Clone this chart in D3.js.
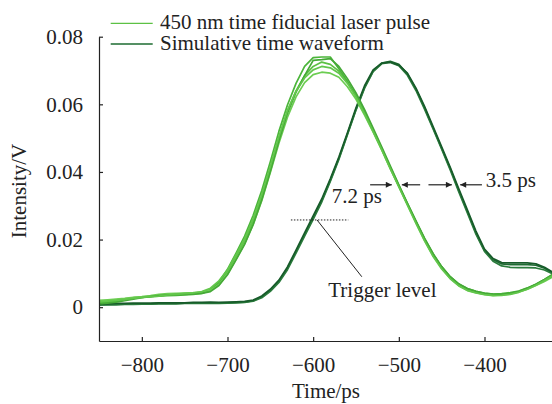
<!DOCTYPE html>
<html lang="en">
<head>
  <meta charset="UTF-8">
  <title>Trigger waveform</title>
  <script src="https://d3js.org/d3.v7.min.js"></script>
  <style>
    body { margin: 0; background: #fff; }
    svg { font-family: "Liberation Serif", "Times New Roman", serif; }
    .axis path, .axis line { stroke: #222; stroke-width: 1.2px; }
    .axis text { font-size: 21px; fill: #222; font-family: "Liberation Serif", serif; }
    .trace { fill: none; stroke-width: 1.7px; stroke-linejoin: round; }
  </style>
</head>
<body>
  <svg width="552" height="404"></svg>

  <script>
    // time axis (ps)
    const times = [
      -850, -840, -830, -820, -810, -800, -790, -780, -770,
      -760, -750, -740, -730, -720, -710, -700, -690, -680,
      -670, -660, -650, -640, -630, -620, -610, -600, -590,
      -580, -570, -560, -550, -540, -530, -520, -510, -500,
      -490, -480, -470, -460, -450, -440, -430, -420, -410,
      -400, -390, -380, -370, -360, -350, -340, -330, -320
    ];

    // 450 nm time fiducial laser pulse (several shots)
    const laser1 = [
      .0017, .0019, .0022, .0025, .0028, .0030, .0032, .0035, .0037,
      .0039, .0041, .0042, .0044, .0052, .0072, .0105, .0150, .0195,
      .0255, .0325, .0410, .0500, .0580, .0640, .0685, .0712, .0725,
      .0718, .0698, .0665, .0625, .0575, .0522, .0468, .0412, .0358,
      .0305, .0252, .0200, .0155, .0118, .0088, .0067, .0053, .0045,
      .0040, .0037, .0037, .0040, .0046, .0055, .0067, .0080, .0095
    ];
    const laser2 = [
      .0013, .0015, .0018, .0022, .0026, .0029, .0031, .0033, .0034,
      .0035, .0036, .0038, .0041, .0050, .0075, .0112, .0160, .0210,
      .0272, .0345, .0430, .0520, .0598, .0662, .0712, .0738, .0740,
      .0740, .0705, .0668, .0626, .0578, .0525, .0470, .0414, .0360,
      .0306, .0254, .0203, .0158, .0120, .0090, .0068, .0055, .0047,
      .0042, .0039, .0040, .0043, .0048, .0057, .0068, .0082, .0098
    ];
    const laser3 = [
      .0020, .0022, .0024, .0026, .0029, .0031, .0034, .0038, .0040,
      .0041, .0042, .0043, .0045, .0050, .0066, .0098, .0142, .0188,
      .0245, .0315, .0398, .0485, .0562, .0622, .0664, .0688, .0695,
      .0692, .0680, .0652, .0615, .0568, .0518, .0465, .0410, .0357,
      .0304, .0250, .0198, .0152, .0115, .0085, .0064, .0050, .0043,
      .0038, .0035, .0036, .0039, .0045, .0053, .0064, .0076, .0090
    ];
    const laser4 = [
      .0010, .0012, .0015, .0019, .0024, .0028, .0031, .0034, .0036,
      .0037, .0038, .0039, .0041, .0046, .0064, .0096, .0140, .0186,
      .0245, .0318, .0402, .0492, .0574, .0636, .0685, .0730, .0732,
      .0735, .0712, .0676, .0634, .0584, .0530, .0474, .0418, .0362,
      .0308, .0255, .0204, .0158, .0120, .0090, .0069, .0055, .0047,
      .0041, .0039, .0038, .0041, .0047, .0056, .0068, .0082, .0097
    ];
    const laser5 = [
      .0016, .0018, .0020, .0023, .0026, .0029, .0031, .0033, .0036,
      .0038, .0040, .0042, .0046, .0056, .0078, .0110, .0155, .0202,
      .0262, .0333, .0416, .0505, .0582, .0638, .0678, .0702, .0712,
      .0708, .0692, .0662, .0622, .0572, .0520, .0466, .0410, .0356,
      .0302, .0248, .0196, .0150, .0113, .0084, .0063, .0049, .0042,
      .0037, .0034, .0035, .0038, .0044, .0053, .0065, .0079, .0093
    ];

    // simulative time waveform
    const sim1 = [
      .0008, .0008, .0009, .0009, .0010, .0010, .0010, .0011, .0011,
      .0011, .0012, .0012, .0012, .0013, .0012, .0013, .0014, .0015,
      .0019, .0030, .0050, .0076, .0115, .0165, .0215, .0265, .0315,
      .0375, .0440, .0512, .0585, .0650, .0698, .0722, .0727, .0718,
      .0690, .0645, .0590, .0530, .0470, .0410, .0345, .0283, .0220,
      .0168, .0140, .0128, .0126, .0126, .0126, .0124, .0115, .0100
    ];
    const sim2 = [
      .0006, .0007, .0007, .0008, .0008, .0009, .0009, .0010, .0010,
      .0010, .0011, .0011, .0011, .0012, .0011, .0012, .0013, .0014,
      .0018, .0028, .0047, .0073, .0111, .0160, .0210, .0260, .0311,
      .0372, .0437, .0510, .0583, .0648, .0697, .0720, .0724, .0714,
      .0686, .0641, .0586, .0527, .0467, .0406, .0341, .0279, .0216,
      .0165, .0136, .0122, .0118, .0117, .0117, .0116, .0110, .0098
    ];
    const sim3 = [
      .0010, .0010, .0011, .0011, .0012, .0012, .0012, .0013, .0013,
      .0013, .0013, .0014, .0014, .0015, .0014, .0015, .0016, .0017,
      .0021, .0033, .0053, .0080, .0119, .0169, .0220, .0270, .0320,
      .0380, .0444, .0516, .0590, .0655, .0702, .0722, .0725, .0716,
      .0692, .0648, .0594, .0534, .0474, .0414, .0350, .0288, .0225,
      .0172, .0144, .0132, .0131, .0131, .0131, .0128, .0118, .0103
    ];

    const xTicks = [-800, -700, -600, -500, -400];
    const yTicks = [0, 0.02, 0.04, 0.06, 0.08];
    const legendLabels = ["450 nm time fiducial laser pulse", "Simulative time waveform"];

    const laserTraces = [laser1, laser2, laser3, laser4, laser5];
    const simTraces = [sim1, sim2, sim3];
    const laserColors = ["#5cc144", "#4bb53a", "#6ccd52", "#45a937", "#62c64b"];
    const simColors = ["#1d6b31", "#2a7b3c", "#175b2a"];

    const svg = d3.select("svg");
    const plotLeft = 99, plotRight = 552, plotTop = 36.7, plotBottom = 341;

    const x = d3.scaleLinear().domain([-850, -321.2]).range([plotLeft, plotRight]);
    const y = d3.scaleLinear().domain([-0.01, 0.08]).range([plotBottom, plotTop]);

    const defs = svg.append("defs");
    defs.append("clipPath").attr("id", "plot")
      .append("rect").attr("x", plotLeft).attr("y", 0)
      .attr("width", plotRight - plotLeft).attr("height", plotBottom);

    const line = d3.line()
      .x((d, i) => x(times[i]))
      .y(d => y(d));

    const traces = svg.append("g").attr("clip-path", "url(#plot)");

    simTraces.forEach((s, i) => {
      traces.append("path").attr("class", "trace")
        .attr("d", line(s)).attr("stroke", simColors[i]);
    });
    laserTraces.forEach((s, i) => {
      traces.append("path").attr("class", "trace")
        .attr("d", line(s)).attr("stroke", laserColors[i]);
    });

    // Axes
    svg.append("g").attr("class", "axis")
      .attr("transform", `translate(0,${plotBottom})`)
      .call(d3.axisBottom(x).tickValues(xTicks).tickSizeInner(-4).tickSizeOuter(0).tickPadding(16.5)
        .tickFormat(d => "\u2212" + Math.abs(d)));

    svg.append("g").attr("class", "axis")
      .attr("transform", `translate(${plotLeft},0)`)
      .call(d3.axisLeft(y).tickValues(yTicks).tickSizeInner(-4).tickSizeOuter(0).tickPadding(16)
        .tickFormat(d => d === 0 ? "0" : d3.format(".2f")(d)));

    // Axis titles
    svg.append("text")
      .attr("x", 326).attr("y", 398)
      .attr("text-anchor", "middle")
      .style("font-size", "21px").attr("fill", "#222")
      .text("Time/ps");

    svg.append("text")
      .attr("transform", "translate(26,191) rotate(-90)")
      .attr("text-anchor", "middle")
      .style("font-size", "21px").attr("fill", "#222")
      .text("Intensity/V");

    // Legend
    const legendColors = [laserColors[0], simColors[0]];
    const legendY = [23.3, 44];
    legendLabels.forEach((lab, i) => {
      svg.append("line")
        .attr("x1", 110.7).attr("x2", 152.7)
        .attr("y1", legendY[i]).attr("y2", legendY[i])
        .attr("stroke", legendColors[i]).attr("stroke-width", 1.3);
      svg.append("text")
        .attr("x", 160).attr("y", legendY[i] + 5.5)
        .style("font-size", "21px").attr("fill", "#222")
        .text(lab);
    });

    // Trigger level annotation
    const trigger = 0.0258;
    svg.append("line")
      .attr("x1", x(-626)).attr("x2", x(-559))
      .attr("y1", y(trigger)).attr("y2", y(trigger))
      .attr("stroke", "#222").attr("stroke-width", 1).attr("stroke-dasharray", "1.5,1.5");
    svg.append("line")
      .attr("x1", x(-595.5)).attr("y1", y(trigger))
      .attr("x2", x(-543.2)).attr("y2", y(0.0090))
      .attr("stroke", "#222").attr("stroke-width", 1);
    svg.append("text")
      .attr("x", x(-582.4)).attr("y", y(0.0031))
      .style("font-size", "21px").attr("fill", "#222")
      .text("Trigger level");

    // Width arrows
    const arrowLevel = 0.0362;
    defs.append("marker")
      .attr("id", "head").attr("viewBox", "0 0 10 10")
      .attr("refX", 10).attr("refY", 5)
      .attr("markerWidth", 9).attr("markerHeight", 6)
      .attr("markerUnits", "userSpaceOnUse")
      .attr("orient", "auto")
      .append("path").attr("d", "M0,0L10,5L0,10Z").attr("fill", "#222");

    const arrows = [[-533.5, -508.2], [-475.1, -496.5], [-465.4, -438.1], [-403.0, -428.4]];
    arrows.forEach(a => {
      svg.append("line")
        .attr("x1", x(a[0])).attr("x2", x(a[1]))
        .attr("y1", y(arrowLevel)).attr("y2", y(arrowLevel))
        .attr("stroke", "#222").attr("stroke-width", 1.2)
        .attr("marker-end", "url(#head)");
    });

    svg.append("text")
      .attr("x", x(-578.3)).attr("y", y(0.0309))
      .style("font-size", "21px").attr("fill", "#222")
      .text("7.2 ps");
    svg.append("text")
      .attr("x", x(-398.5)).attr("y", y(0.0356))
      .style("font-size", "21px").attr("fill", "#222")
      .text("3.5 ps");
  </script>
</body>
</html>
